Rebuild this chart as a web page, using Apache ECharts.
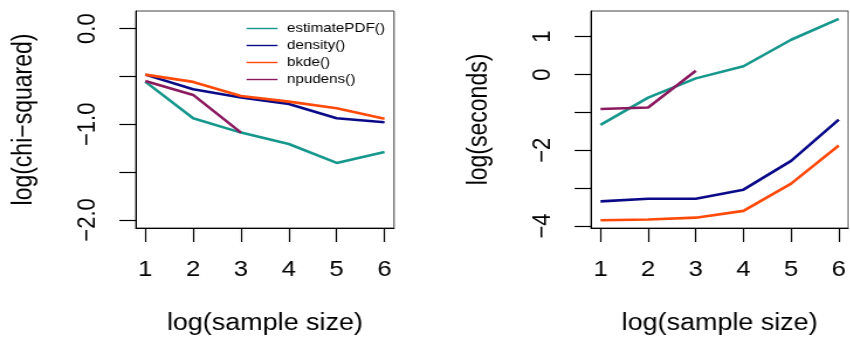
<!DOCTYPE html>
<html>
<head>
<meta charset="utf-8">
<script src="https://cdn.jsdelivr.net/npm/echarts@6/dist/echarts.min.js"></script>
<style>
html,body{margin:0;padding:0;background:#fff;overflow:hidden;}
#wrap{width:850px;height:343px;overflow:hidden;}
#chart{height:343px;transform-origin:0 0;}
</style>
</head>
<body>
<div id="wrap"><div id="chart"></div></div>
<script>
// ---- data ----
const sampleSizes = [1, 2, 3, 4, 5, 6];
const seriesNames = ['estimatePDF()', 'density()', 'bkde()', 'npudens()'];
const seriesColors = ['#16978c', '#0a0a88', '#ff4a0a', '#8b1a5e'];

// left panel: log(chi-squared)
const chiEstimatePDF = [-0.554, -0.937, -1.087, -1.206, -1.404, -1.289];
const chiDensity     = [-0.481, -0.634, -0.721, -0.787, -0.937, -0.979];
const chiBkde        = [-0.481, -0.557, -0.704, -0.763, -0.833, -0.941];
const chiNpudens     = [-0.547, -0.693, -1.087];

// right panel: log(seconds)
const secEstimatePDF = [-1.33, -0.61, -0.10, 0.22, 0.92, 1.47];
const secDensity     = [-3.35, -3.28, -3.28, -3.04, -2.28, -1.19];
const secBkde        = [-3.85, -3.83, -3.78, -3.60, -2.88, -1.875];
const secNpudens     = [-0.91, -0.87, 0.10];

// ticks
const xTicks = [1, 2, 3, 4, 5, 6];
const leftYTicks = [-2, -1.5, -1, -0.5, 0];
const leftYLabels = [-2, -1, 0];
const rightYTicks = [-4, -3, -2, -1, 0, 1];
const rightYLabels = [-4, -2, 0, 1];

// ---- layout (pre-stretch coordinates) ----
const S = 1.17;
const W = 850 / S;
const el = document.getElementById('chart');
el.style.width = W + 'px';
el.style.transform = 'scaleX(' + S + ')';

const FONT = 'Liberation Sans, Arial, Helvetica, sans-serif';
const minus = s => String(s).replace('-', '\u2212');

function pairs(vals) { return vals.map((v, i) => [sampleSizes[i], v]); }

const chart = echarts.init(el, null, {renderer: 'canvas'});

function xAxisCfg(gi) {
  return {
    type: 'value', gridIndex: gi, min: 0.8, max: 6.2,
    name: 'log(sample size)', nameLocation: 'middle', nameGap: 84,
    nameTextStyle: {fontFamily: FONT, fontSize: 23, color: '#000'},
    axisLine: {show: true, onZero: false, lineStyle: {color: '#000', width: 1}},
    axisTick: {show: true, length: 14, customValues: xTicks, lineStyle: {color: '#000', width: 1.2}},
    axisLabel: {show: true, customValues: xTicks, margin: 31, fontFamily: FONT, fontSize: 22, color: '#000'},
    splitLine: {show: false}
  };
}
function yAxisCfg(gi, name, min, max, ticks, labels, fmt) {
  return {
    type: 'value', gridIndex: gi, min: min, max: max,
    name: name, nameLocation: 'middle', nameGap: 84,
    nameTextStyle: {fontFamily: FONT, fontSize: 23, color: '#000'},
    axisLine: {show: true, onZero: false, lineStyle: {color: '#000', width: 1}},
    axisTick: {show: true, length: 14, customValues: ticks, lineStyle: {color: '#000', width: 1.2}},
    axisLabel: {show: true, customValues: labels, rotate: 90, margin: 30,
      fontFamily: FONT, fontSize: 22, color: '#000', formatter: v => minus(fmt(v))},
    splitLine: {show: false}
  };
}

function lineSeries(idx, gi, vals) {
  return {
    name: seriesNames[idx], type: 'line', xAxisIndex: gi, yAxisIndex: gi,
    data: pairs(vals), symbol: 'none', showSymbol: false, silent: true,
    lineStyle: {color: seriesColors[idx], width: 2.6},
    itemStyle: {color: seriesColors[idx]},
    animation: false
  };
}

const option = {
  animation: false,
  backgroundColor: '#fff',
  textStyle: {fontFamily: FONT},
  grid: [
    {left: 116.0, top: 11, width: 220.8, height: 217, show: true, borderColor: '#444', borderWidth: 1, backgroundColor: 'transparent'},
    {left: 505.1, top: 11, width: 220.5, height: 217, show: true, borderColor: '#444', borderWidth: 1, backgroundColor: 'transparent'}
  ],
  xAxis: [xAxisCfg(0), xAxisCfg(1)],
  yAxis: [
    yAxisCfg(0, 'log(chi\u2212squared)', -2.084, 0.184, leftYTicks, leftYLabels, v => v.toFixed(1)),
    yAxisCfg(1, 'log(seconds)', -4.053, 1.68, rightYTicks, rightYLabels, v => String(Math.round(v)))
  ],
  legend: {
    data: seriesNames,
    orient: 'vertical',
    left: 205.7, top: 16.5,
    icon: 'rect',
    itemWidth: 26.5, itemHeight: 1.4, itemGap: 3,
    textStyle: {fontFamily: FONT, fontSize: 13, color: '#000', lineHeight: 14, padding: [0, 0, 0, 3]},
    selectedMode: false
  },
  series: [
    lineSeries(0, 0, chiEstimatePDF),
    lineSeries(1, 0, chiDensity),
    lineSeries(2, 0, chiBkde),
    lineSeries(3, 0, chiNpudens),
    lineSeries(0, 1, secEstimatePDF),
    lineSeries(1, 1, secDensity),
    lineSeries(2, 1, secBkde),
    lineSeries(3, 1, secNpudens)
  ]
};
chart.setOption(option);
</script>
</body>
</html>
